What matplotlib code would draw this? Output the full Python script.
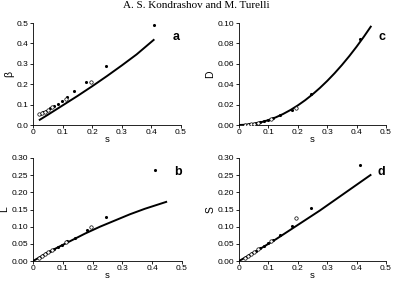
import matplotlib
matplotlib.use("Agg")
import matplotlib.pyplot as plt
import numpy as np

plt.rcParams['font.family'] = ['Liberation Sans', 'DejaVu Sans']

# observed points (s) and measures
s_pts = [0.020, 0.025, 0.030, 0.035, 0.040, 0.045, 0.050, 0.058, 0.065, 0.072,
         0.085, 0.098, 0.110, 0.115, 0.140, 0.180, 0.195, 0.245, 0.410]
filled = [0, 1, 0, 1, 0, 1, 0, 1, 0, 1, 1, 1, 0, 1, 1, 1, 0, 1, 1]
beta_pts = [0.052, 0.055, 0.058, 0.062, 0.066, 0.070, 0.075, 0.082, 0.088, 0.095,
            0.105, 0.118, 0.128, 0.135, 0.165, 0.210, 0.212, 0.290, 0.490]
L_pts = [0.010, 0.012, 0.015, 0.017, 0.020, 0.022, 0.025, 0.029, 0.032, 0.036,
         0.042, 0.048, 0.055, 0.057, 0.068, 0.090, 0.100, 0.128, 0.265]
D_pts = [0.0002, 0.0003, 0.0004, 0.0006, 0.0008, 0.0010, 0.0012, 0.0016, 0.0020, 0.0025,
         0.0035, 0.0047, 0.0060, 0.0065, 0.0095, 0.0150, 0.0170, 0.0300, 0.0840]
S_pts = [0.010, 0.012, 0.015, 0.017, 0.020, 0.023, 0.026, 0.030, 0.034, 0.038,
         0.045, 0.052, 0.058, 0.061, 0.075, 0.103, 0.125, 0.155, 0.280]

# theory curves
s_beta_line = [0.020, 0.05, 0.10, 0.15, 0.20, 0.25, 0.30, 0.35, 0.41]
beta_line = [0.023, 0.050, 0.096, 0.142, 0.190, 0.240, 0.292, 0.346, 0.420]
s_curve = [0.0, 0.025, 0.05, 0.075, 0.10, 0.125, 0.15, 0.175, 0.20, 0.225, 0.25,
           0.275, 0.30, 0.325, 0.35, 0.375, 0.40, 0.425, 0.45]
L_line = [0.0, 0.012, 0.024, 0.036, 0.047, 0.058, 0.069, 0.080, 0.090, 0.100, 0.109,
          0.118, 0.127, 0.136, 0.144, 0.152, 0.159, 0.166, 0.173]
D_line = [0.0, 0.0003, 0.0012, 0.0027, 0.0048, 0.0075, 0.0108, 0.0147, 0.0192, 0.0243, 0.0300,
          0.0363, 0.0432, 0.0507, 0.0588, 0.0675, 0.0768, 0.0867, 0.0972]
S_line = [0.0, 0.012, 0.024, 0.037, 0.050, 0.063, 0.077, 0.091, 0.105, 0.119, 0.133,
          0.147, 0.162, 0.177, 0.192, 0.207, 0.222, 0.237, 0.252]

W, H = 393, 281
fig = plt.figure(figsize=(W / 100, H / 100), dpi=100)

def ax_at(l, r, t, b):
    return fig.add_axes([l / W, 1 - b / H, (r - l) / W, (b - t) / H])

def panel(ax, ys, sx, line, ylim, yticks, fmt, ylabel, letter):
    sp = np.array(s_pts)
    yp = np.array(ys)
    f = np.array(filled, dtype=bool)
    ax.plot(sx, line, color='black', lw=1.4, zorder=2, solid_capstyle='butt')
    ax.scatter(sp[f], yp[f], s=5, color='black', zorder=3, linewidths=0)
    ax.scatter(sp[~f], yp[~f], s=6, facecolors='white', edgecolors='black',
               linewidths=0.5, zorder=3)
    ax.set_xlim(0, 0.5)
    ax.set_ylim(*ylim)
    ax.set_xticks([0, 0.1, 0.2, 0.3, 0.4, 0.5])
    ax.set_xticklabels(['0', '0.1', '0.2', '0.3', '0.4', '0.5'])
    ax.set_yticks(yticks)
    ax.set_yticklabels([fmt.format(v) for v in yticks])
    for sp_ in ['top', 'right']:
        ax.spines[sp_].set_visible(False)
    for sp_ in ['left', 'bottom']:
        ax.spines[sp_].set_linewidth(0.6)
    ax.tick_params(labelsize=6.0, length=2, width=0.6, pad=1.2)
    ax.set_xlabel('s', fontsize=6.8, labelpad=-1)
    ax.set_ylabel(ylabel, fontsize=7.5, labelpad=2)
    ax.text(0.97, 0.86, letter, transform=ax.transAxes, fontsize=9,
            fontweight='bold', ha='center', va='center')

ax_a = ax_at(33, 181, 23, 125)
panel(ax_a, beta_pts, s_beta_line, beta_line, (0, 0.5),
      [0, 0.1, 0.2, 0.3, 0.4, 0.5], '{:.1f}', 'β', 'a')
ax_c = ax_at(239, 386, 23, 125)
panel(ax_c, D_pts, s_curve, D_line, (0, 0.1),
      [0, 0.02, 0.04, 0.06, 0.08, 0.10], '{:.2f}', 'D', 'c')
ax_b = ax_at(33, 182, 158, 261)
panel(ax_b, L_pts, s_curve, L_line, (0, 0.3),
      [0, 0.05, 0.10, 0.15, 0.20, 0.25, 0.30], '{:.2f}', 'L', 'b')
ax_d = ax_at(239, 386, 158, 261)
panel(ax_d, S_pts, s_curve, S_line, (0, 0.3),
      [0, 0.05, 0.10, 0.15, 0.20, 0.25, 0.30], '{:.2f}', 'S', 'd')

fig.text(196 / W, 1 - 6 / H, 'A. S. Kondrashov and M. Turelli',
         family='Liberation Serif', fontsize=8, ha='center', va='center')

fig.savefig('out.png', dpi=100)
